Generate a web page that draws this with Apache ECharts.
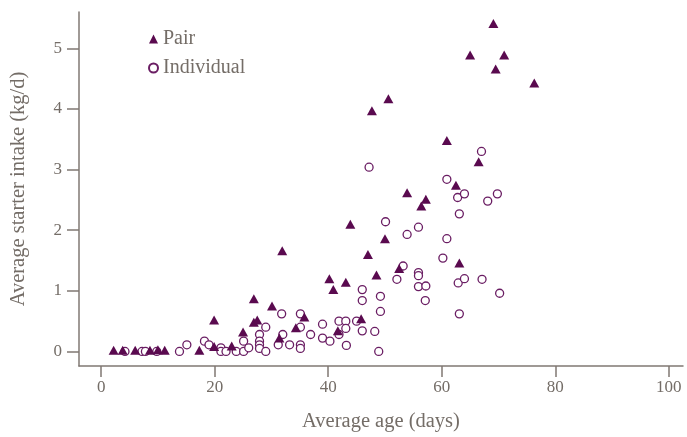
<!DOCTYPE html>
<html>
<head>
<meta charset="utf-8">
<script src="https://cdn.jsdelivr.net/npm/echarts@6/dist/echarts.min.js"></script>
<style>
html, body { margin: 0; padding: 0; background: #fff; }
#chart { width: 687px; height: 437px; }
</style>
</head>
<body>
<div id="chart"></div>
<script>
// 数据：平均日龄 / 平均开食料采食量
var pairAge = [2.2, 3.8, 6.0, 8.6, 10.0, 11.2, 17.3, 19.9, 19.9, 23.0, 25.0, 26.9, 27.5, 26.9, 30.1,
	31.9, 31.4, 35.8, 34.3, 41.7, 45.8, 40.2, 43.1, 40.9, 47.0, 48.5, 52.5, 50.0, 43.9, 47.7,
	50.6, 53.9, 57.2, 56.4, 62.5, 63.1, 60.9, 66.5, 69.1, 65.0, 71.0, 69.5, 76.3];
var pairIntake = [0.02, 0.02, 0.02, 0.02, 0.03, 0.02, 0.02, 0.08, 0.52, 0.09, 0.32, 0.48, 0.52, 0.87, 0.75,
	1.66, 0.22, 0.57, 0.39, 0.34, 0.54, 1.20, 1.14, 1.02, 1.60, 1.26, 1.37, 1.86, 2.10, 3.97,
	4.17, 2.62, 2.51, 2.40, 2.74, 1.46, 3.48, 3.13, 5.41, 4.89, 4.89, 4.66, 4.43];

var indivAge = [4.2, 7.2, 7.8, 9.8, 13.8, 15.1, 18.2, 19.0, 21.1, 21.1, 22.0, 23.8, 25.1, 25.1, 26.0,
	27.9, 27.9, 27.9, 27.9, 29.0, 29.0, 31.2, 32.0, 31.8, 33.2, 35.1, 35.1, 35.1, 35.1, 36.9,
	39.0, 39.0, 40.3, 41.9, 41.9, 43.1, 43.1, 43.2, 45.0, 46.0, 46.0, 46.0, 48.2, 49.2, 49.2,
	48.9, 47.2, 50.1, 53.9, 55.9, 60.9, 60.2, 53.2, 52.1, 55.9, 55.9, 55.9, 57.2, 57.1, 60.9,
	62.8, 64.0, 68.1, 69.8, 63.1, 62.9, 64.0, 67.1, 70.2, 63.1, 67.0];
var indivIntake = [0, 0, 0, 0, 0, 0.11, 0.17, 0.11, 0.06, 0, 0, 0, 0.17, 0, 0.06,
	0.28, 0.17, 0.11, 0.05, 0.40, 0, 0.11, 0.28, 0.62, 0.11, 0.62, 0.40, 0.11, 0.05, 0.28,
	0.45, 0.22, 0.17, 0.50, 0.28, 0.50, 0.38, 0.10, 0.50, 1.02, 0.84, 0.34, 0.33, 0.91, 0.66,
	0, 3.04, 2.14, 1.93, 2.05, 1.86, 1.54, 1.41, 1.19, 1.30, 1.25, 1.07, 1.08, 0.84, 2.84,
	2.54, 2.60, 2.48, 2.60, 2.27, 1.13, 1.20, 1.19, 0.96, 0.62, 3.30];

var xTicks = [0, 20, 40, 60, 80, 100];
var yTicks = [0, 1, 2, 3, 4, 5];

function pairs(xs, ys) {
	var out = [];
	for (var i = 0; i < xs.length; i++) {
		out.push([xs[i], ys[i]]);
	}
	return out;
}

var purple = '#5a0a4f';
var axisGray = '#807873';
var textGray = '#746d67';
var font = '"Liberation Serif", "DejaVu Serif", serif';

var myChart = echarts.init(document.getElementById('chart'));

var option = {
	animation : false,
	textStyle : {
		fontFamily : font
	},
	grid : {
		left : 78,
		right : 4,
		top : 12,
		bottom : 66
	},
	legend : {
		orient : 'vertical',
		left : 143,
		top : 23,
		itemWidth : 9,
		itemHeight : 9,
		itemGap : 7,
		textStyle : {
			color : textGray,
			fontSize : 20,
			fontFamily : font,
			lineHeight : 22
		},
		data : [ 'Pair', 'Individual' ]
	},
	xAxis : {
		type : 'value',
		min : -3.9,
		max : 102.5,
		name : 'Average age (days)',
		nameLocation : 'middle',
		nameGap : 45,
		nameTextStyle : {
			color : textGray,
			fontSize : 20.5,
			fontFamily : font
		},
		axisLine : {
			onZero : false,
			lineStyle : { color : axisGray, width : 1.5 }
		},
		axisTick : {
			show : true,
			length : 11,
			customValues : xTicks,
			lineStyle : { color : axisGray, width : 1.5 }
		},
		axisLabel : {
			customValues : xTicks,
			margin : 13,
			color : textGray,
			fontSize : 17,
			fontFamily : font
		},
		splitLine : { show : false }
	},
	yAxis : {
		type : 'value',
		min : -0.24,
		max : 5.6,
		name : 'Average starter intake (kg/d)',
		nameLocation : 'middle',
		nameGap : 50,
		nameTextStyle : {
			color : textGray,
			fontSize : 20.5,
			fontFamily : font
		},
		axisLine : {
			show : true,
			onZero : false,
			lineStyle : { color : axisGray, width : 1.5 }
		},
		axisTick : {
			show : true,
			length : 12,
			customValues : yTicks,
			lineStyle : { color : axisGray, width : 1.5 }
		},
		axisLabel : {
			customValues : yTicks,
			margin : 17,
			color : textGray,
			fontSize : 17,
			fontFamily : font
		},
		splitLine : { show : false }
	},
	series : [ {
		name : 'Individual',
		type : 'scatter',
		symbol : 'circle',
		symbolSize : 8,
		itemStyle : {
			color : '#ffffff',
			borderColor : '#6a1d63',
			borderWidth : 1.3,
			opacity : 1
		},
		data : pairs(indivAge, indivIntake)
	}, {
		name : 'Pair',
		type : 'scatter',
		symbol : 'triangle',
		symbolSize : [ 10, 9 ],
		itemStyle : {
			color : purple,
			opacity : 1
		},
		data : pairs(pairAge, pairIntake)
	} ]
};

myChart.setOption(option);
</script>
</body>
</html>
